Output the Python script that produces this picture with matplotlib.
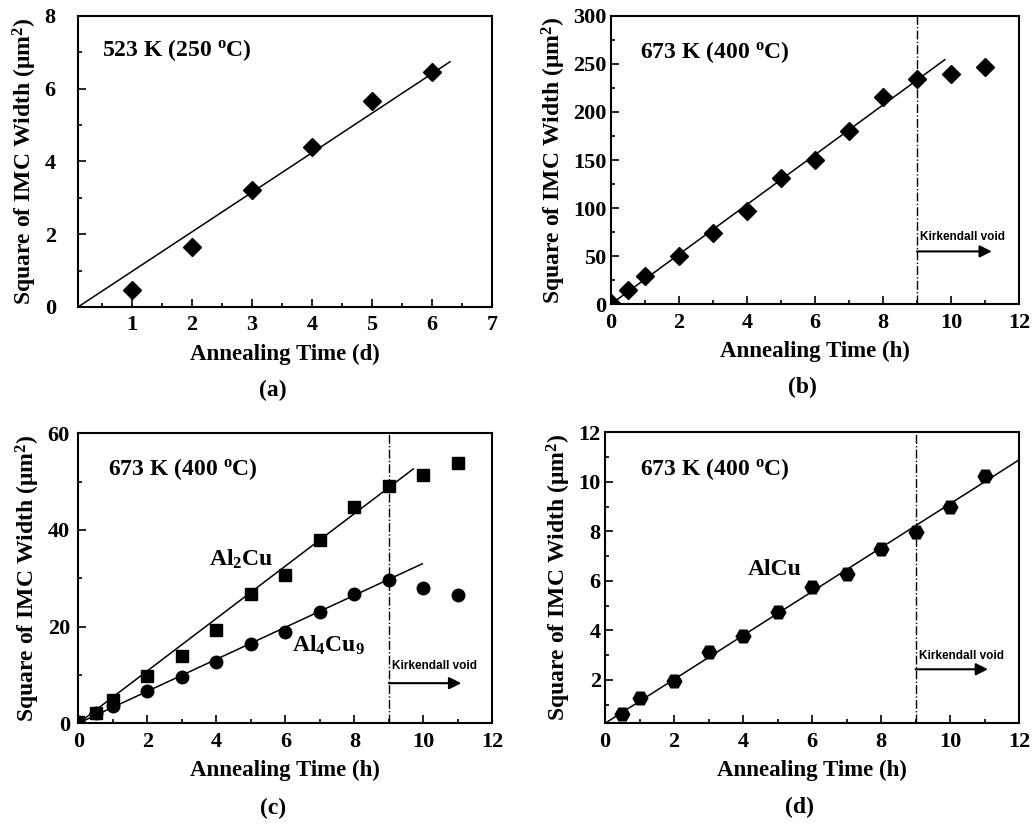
import matplotlib
matplotlib.use('Agg')
import matplotlib.pyplot as plt
import numpy as np

plt.rcParams['font.family'] = ['Liberation Serif', 'DejaVu Serif']
plt.rcParams['font.weight'] = 'bold'
plt.rcParams['mathtext.fontset'] = 'custom'
plt.rcParams['mathtext.rm'] = 'Liberation Serif:bold'
plt.rcParams['mathtext.bf'] = 'Liberation Serif:bold'
plt.rcParams['mathtext.it'] = 'Liberation Serif:bold'
plt.rcParams['mathtext.default'] = 'bf'

# (a) 523 K, time in days
t_a = [1, 2, 3, 4, 5, 6]
w_a = [0.47, 1.66, 3.21, 4.39, 5.66, 6.45]
fit_a = (1.087, -0.109)   # slope, intercept
fit_a_x = [0.1, 6.3]

# (b) 673 K, total IMC
t_b = [0, 0.5, 1, 2, 3, 4, 5, 6, 7, 8, 9, 10, 11]
w_b = [1.5, 15, 29, 50, 74, 97, 131, 150, 180, 215, 234, 239, 247]
fit_b = (25.9, 0.0)
fit_b_x = [0, 9.82]

# (c) 673 K, Al2Cu and Al4Cu9
t_c = [0, 0.5, 1, 2, 3, 4, 5, 6, 7, 8, 9, 10, 11]
al2cu = [0.3, 2.2, 4.9, 9.8, 14.0, 19.2, 26.8, 30.7, 38.0, 44.8, 49.0, 51.4, 53.8]
al4cu9 = [0.2, 2.2, 3.5, 6.6, 9.6, 12.6, 16.4, 18.9, 23.1, 26.7, 29.7, 27.9, 26.6]
fit_al2cu = (5.42, 0.0)
fit_al2cu_x = [0, 9.71]
fit_al4cu9 = (3.31, 0.0)
fit_al4cu9_x = [0, 9.97]

# (d) 673 K, AlCu
t_d = [0.5, 1, 2, 3, 4, 5, 6, 7, 8, 9, 10, 11]
alcu = [0.63, 1.26, 1.97, 3.12, 3.79, 4.73, 5.77, 6.27, 7.29, 7.99, 8.97, 10.25]
fit_d = (0.886, 0.25)
fit_d_x = [0, 12]

t_void = 9

fig = plt.figure(figsize=(10.33, 8.27), dpi=100)
ax_a = fig.add_axes([0.0755, 0.6288, 0.4008, 0.352])
ax_b = fig.add_axes([0.5912, 0.632, 0.3953, 0.349])
ax_c = fig.add_axes([0.0758, 0.1254, 0.4008, 0.3507])
ax_d = fig.add_axes([0.5857, 0.1254, 0.4008, 0.352])

ylab = 'Square of IMC Width (μm$^{2}$)'
title_673 = '673 K (400 $^{o}$C)'


def style(ax, xlim, ylim, xmaj, xmin, ymaj, ymin, xlab, ypad=3):
    ax.set_xlim(*xlim)
    ax.set_ylim(*ylim)
    ax.set_xticks(xmaj)
    ax.set_xticks(xmin, minor=True)
    ax.set_yticks(ymaj)
    ax.set_yticks(ymin, minor=True)
    ax.tick_params(which='both', direction='in', top=False, right=False,
                   labelsize=16, width=1.2)
    ax.tick_params(which='major', length=6)
    ax.tick_params(which='minor', length=3)
    ax.tick_params(axis='y', pad=ypad)
    ax.tick_params(axis='x', pad=6)
    for s in ax.spines.values():
        s.set_linewidth(1.5)
    ax.set_xlabel(xlab, fontsize=16.5, fontweight='bold', labelpad=6)
    ax.set_ylabel(ylab, fontsize=17, fontweight='bold', labelpad=4)


def fitline(ax, fit, xs):
    xs = np.array(xs)
    ax.plot(xs, fit[0] * xs + fit[1], color='black', lw=1.1)


def void_mark(ax, ytext, yarrow, xend):
    ax.axvline(t_void, color='black', lw=1.0, ls='-.')
    ax.text(t_void + 0.1, ytext, 'Kirkendall void', fontsize=8.5,
            fontweight='bold', family=['Liberation Sans'], va='center')
    ax.annotate('', xy=(xend, yarrow), xytext=(t_void, yarrow),
                arrowprops=dict(arrowstyle='-|>', color='black', lw=1.5,
                                mutation_scale=18, shrinkA=0, shrinkB=0))


# (a)
ax_a.plot(t_a, w_a, 'D', color='black', ms=9)
fitline(ax_a, fit_a, fit_a_x)
style(ax_a, (0.1, 7), (0, 8), [1, 2, 3, 4, 5, 6, 7], np.arange(0.5, 7, 1),
      [0, 2, 4, 6, 8], [1, 3, 5, 7], 'Annealing Time (d)', ypad=16)
ax_a.text(0.5, 7.05, '523 K (250 $^{o}$C)', fontsize=17, va='center')

# (b)
ax_b.plot(t_b, w_b, 'D', color='black', ms=9)
fitline(ax_b, fit_b, fit_b_x)
style(ax_b, (0, 12), (0, 300), range(0, 13, 2), range(1, 12, 2),
      range(0, 301, 50), range(25, 300, 50), 'Annealing Time (h)')
ax_b.text(0.86, 262, title_673, fontsize=17, va='center')
void_mark(ax_b, 70, 55, 11.2)

# (c)
ax_c.plot(t_c, al2cu, 's', color='black', ms=8)
ax_c.plot(t_c, al4cu9, 'o', color='black', ms=9)
fitline(ax_c, fit_al2cu, fit_al2cu_x)
fitline(ax_c, fit_al4cu9, fit_al4cu9_x)
style(ax_c, (0, 12), (0, 60), range(0, 13, 2), range(1, 12, 2),
      range(0, 61, 20), range(10, 60, 20), 'Annealing Time (h)', ypad=6)
ax_c.text(0.87, 52.5, title_673, fontsize=17, va='center')
ax_c.text(3.8, 34, 'Al$_{2}$Cu', fontsize=17, va='center')
ax_c.text(6.2, 16.2, 'Al$_{4}$Cu$_{9}$', fontsize=17, va='center')
void_mark(ax_c, 11.8, 8.3, 11.1)

# (d)
ax_d.plot(t_d, alcu, 'H', color='black', ms=10.5)
fitline(ax_d, fit_d, fit_d_x)
style(ax_d, (0, 12), (0.25, 12), range(0, 13, 2), range(1, 12, 2),
      range(2, 13, 2), range(1, 12, 2), 'Annealing Time (h)')
ax_d.text(1.0, 10.5, title_673, fontsize=17, va='center')
ax_d.text(4.15, 6.47, 'AlCu', fontsize=17, va='center')
void_mark(ax_d, 2.97, 2.43, 11.1)

for ax, lab, y in [(ax_a, '(a)', 0.528), (ax_b, '(b)', 0.532),
                   (ax_c, '(c)', 0.023), (ax_d, '(d)', 0.024)]:
    pos = ax.get_position()
    fig.text(pos.x0 + pos.width * 0.47, y, lab, fontsize=17,
             fontweight='bold', ha='center', va='center')

fig.savefig('out.png', dpi=100)
